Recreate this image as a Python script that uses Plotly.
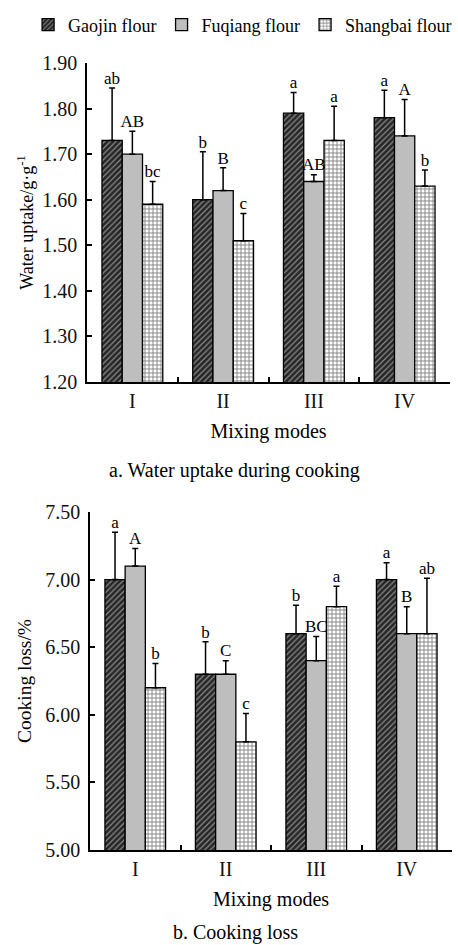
import plotly.graph_objects as go

modes = ["I", "II", "III", "IV"]
series = ["Gaojin flour", "Fuqiang flour", "Shangbai flour"]

# Water uptake (g/g)
wu_vals = {
    "Gaojin flour": [1.73, 1.60, 1.79, 1.78],
    "Fuqiang flour": [1.70, 1.62, 1.64, 1.74],
    "Shangbai flour": [1.59, 1.51, 1.73, 1.63],
}
wu_err = {
    "Gaojin flour": [0.115, 0.105, 0.045, 0.06],
    "Fuqiang flour": [0.05, 0.05, 0.015, 0.08],
    "Shangbai flour": [0.05, 0.06, 0.075, 0.035],
}
wu_lbl = {
    "Gaojin flour": ["ab", "b", "a", "a"],
    "Fuqiang flour": ["AB", "B", "AB", "A"],
    "Shangbai flour": ["bc", "c", "a", "b"],
}

# Cooking loss (%)
cl_vals = {
    "Gaojin flour": [7.00, 6.30, 6.60, 7.00],
    "Fuqiang flour": [7.10, 6.30, 6.40, 6.60],
    "Shangbai flour": [6.20, 5.80, 6.80, 6.60],
}
cl_err = {
    "Gaojin flour": [0.35, 0.24, 0.21, 0.125],
    "Fuqiang flour": [0.13, 0.10, 0.18, 0.20],
    "Shangbai flour": [0.18, 0.21, 0.15, 0.41],
}
cl_lbl = {
    "Gaojin flour": ["a", "b", "b", "a"],
    "Fuqiang flour": ["A", "C", "BC", "B"],
    "Shangbai flour": ["b", "c", "a", "ab"],
}

FONT = "Liberation Serif"

styles = {
    "Gaojin flour": dict(color="#262626", pattern=dict(shape="/", fgcolor="#f0f0f0", bgcolor="#262626", size=4, solidity=0.3)),
    "Fuqiang flour": dict(color="#bebebe", pattern=dict(shape="")),
    "Shangbai flour": dict(color="white", pattern=dict(shape="+", fgcolor="#000000", bgcolor="white", size=4, solidity=0.4)),
}

fig = go.Figure()

def add_panel(vals, errs, lbls, xa, ya, showlegend):
    for i, s in enumerate(series):
        st = styles[s]
        fig.add_trace(go.Bar(
            x=modes, y=vals[s], name=s, xaxis=xa, yaxis=ya,
            offsetgroup=str(i), legendgroup=s, showlegend=showlegend,
            marker=dict(color=st["color"], pattern=st["pattern"],
                        line=dict(color="black", width=1.3)),
            error_y=dict(type="data", symmetric=False, array=errs[s],
                         arrayminus=[0] * len(modes), color="black",
                         thickness=1.5, width=3),
        ))
    for i, s in enumerate(series):
        tops = [v + e for v, e in zip(vals[s], errs[s])]
        fig.add_trace(go.Scatter(
            x=modes, y=tops, mode="text", text=lbls[s], textposition="top center",
            textfont=dict(family=FONT, size=17, color="black"),
            xaxis=xa, yaxis=ya, offsetgroup=str(i), showlegend=False,
            hoverinfo="skip", cliponaxis=False,
        ))

add_panel(wu_vals, wu_err, wu_lbl, "x", "y", True)
add_panel(cl_vals, cl_err, cl_lbl, "x2", "y2", False)

axis_common = dict(showline=True, linecolor="black", linewidth=1.5, ticks="inside",
                   ticklen=5, tickcolor="black", tickwidth=1.5, showgrid=False,
                   zeroline=False, mirror=False, automargin=False,
                   tickfont=dict(family=FONT, size=20, color="#111111"))

fig.update_layout(
    width=458, height=945,
    margin=dict(l=0, r=0, t=0, b=0, autoexpand=False),
    plot_bgcolor="white", paper_bgcolor="white",
    barmode="group", bargap=0.33, bargroupgap=0,
    scattermode="group",
    font=dict(family=FONT, color="black"),
    legend=dict(orientation="h", x=0.998, y=1 - 25 / 945, xanchor="right", yanchor="middle",
                font=dict(family=FONT, size=18, color="black"),
                itemwidth=30, tracegroupgap=0, borderwidth=0),
    xaxis=dict(domain=[87 / 458, 450 / 458], anchor="y", type="category",
               tickson="boundaries", ticklabelstandoff=0,
               title=dict(text="Mixing modes", font=dict(family=FONT, size=20), standoff=13),
               **axis_common),
    yaxis=dict(domain=[1 - 382 / 945, 1 - 63 / 945], anchor="x", range=[1.2, 1.9],
               dtick=0.1, tickformat=".2f", ticklabelstandoff=4,
               title=dict(text="Water uptake/g·g<sup>-1</sup>", font=dict(family=FONT, size=18), standoff=4),
               **axis_common),
    xaxis2=dict(domain=[90 / 458, 452 / 458], anchor="y2", type="category",
                tickson="boundaries", ticklabelstandoff=0,
                title=dict(text="Mixing modes", font=dict(family=FONT, size=20), standoff=13),
                **axis_common),
    yaxis2=dict(domain=[1 - 850 / 945, 1 - 512 / 945], anchor="x2", range=[5.0, 7.5],
                dtick=0.5, tickformat=".2f", ticklabelstandoff=4,
                title=dict(text="Cooking loss/%", font=dict(family=FONT, size=19.5), standoff=8),
                **axis_common),
    annotations=[
        dict(text="a. Water uptake during cooking", x=234 / 458, y=1 - 470 / 945,
             xref="paper", yref="paper", showarrow=False, yanchor="middle",
             font=dict(family=FONT, size=20, color="black")),
        dict(text="b. Cooking loss", x=235 / 458, y=1 - 932 / 945,
             xref="paper", yref="paper", showarrow=False, yanchor="middle",
             font=dict(family=FONT, size=20, color="black")),
    ],
)

fig.write_html("out.html")
